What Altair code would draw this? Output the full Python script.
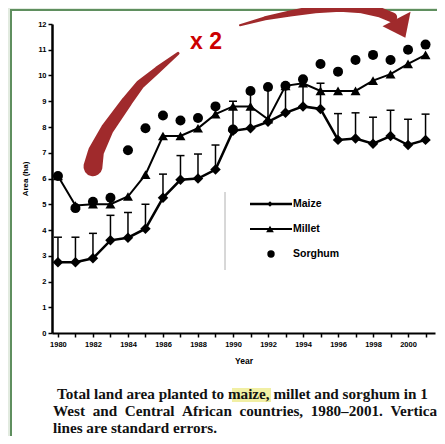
import altair as alt
import pandas as pd

# ---------------- data ----------------
years = list(range(1980, 2002))
maize = [2.75, 2.75, 2.9, 3.6, 3.7, 4.05, 5.25, 5.95, 6.0, 6.35, 7.85, 7.95,
         8.2, 8.55, 8.8, 8.7, 7.5, 7.55, 7.35, 7.65, 7.3, 7.5]
maize_se = [0.97, 0.97, 0.97, 0.97, 0.98, 0.95, 0.92, 0.94, 0.95, 0.95, 1.15, 1.35,
            1.25, 1.05, 1.0, 1.0, 1.02, 1.0, 1.03, 1.0, 1.0, 1.0]
millet = [6.1, 4.95, 5.0, 5.0, 5.3, 6.15, 7.65, 7.65, 7.95, 8.5, 8.8, 8.8,
          8.3, 9.6, 9.7, 9.4, 9.4, 9.4, 9.8, 10.05, 10.45, 10.8]
sorghum = [6.1, 4.85, 5.1, 5.25, 7.1, 7.95, 8.45, 8.25, 8.35, 8.8, 7.9, 9.4,
           9.55, 9.6, 9.85, 10.45, 10.15, 10.6, 10.8, 10.6, 11.0, 11.2]
y_ticks = list(range(0, 13))
legend_labels = ["Maize", "Millet", "Sorghum"]
caption_lines = [
    "Total land area planted to maize, millet and sorghum in 1",
    "West \u00a0and \u00a0Central \u00a0African \u00a0countries, \u00a01980\u20132001. \u00a0Vertica",
    "lines are standard errors.",
]
annot_text = "x 2"

# annotation arrow paths (in year / area units)
arrow_left_year = [1986.86, 1985.71, 1984.69, 1983.94, 1982.80, 1982.17, 1982.00]
arrow_left_area = [10.86, 10.23, 9.65, 8.99, 7.90, 7.04, 6.46]
arrow_left_w = [3, 7, 9, 11, 13, 16, 19]
arrow_right_year = [1990.40, 1991.83, 1993.26, 1994.69, 1996.11, 1997.37, 1998.40, 1999.09]
arrow_right_area = [11.95, 12.22, 12.41, 12.57, 12.65, 12.61, 12.45, 12.26]
arrow_right_w = [2, 4, 6, 8, 9, 10, 10, 10]
head_year = [1999.49]
head_area = [11.95]

# ---------------- frames ----------------
maize_df = pd.DataFrame({"year": years, "area": maize,
                         "top": [m + s for m, s in zip(maize, maize_se)]})
millet_df = pd.DataFrame({"year": years, "area": millet})
sorghum_df = pd.DataFrame({"year": years, "area": sorghum})
arrowL = pd.DataFrame({"year": arrow_left_year, "area": arrow_left_area,
                       "w": arrow_left_w, "o": list(range(len(arrow_left_w)))})
arrowR = pd.DataFrame({"year": arrow_right_year, "area": arrow_right_area,
                       "w": arrow_right_w, "o": list(range(len(arrow_right_w)))})
headdf = pd.DataFrame({"year": head_year, "area": head_area})
one = pd.DataFrame({"k": [0]})

FONT = "Liberation Sans"
RED = "#a02a2c"

xscale = alt.Scale(domain=[1979.66, 2001.54], nice=False, zero=False)
yscale = alt.Scale(domain=[0, 12], nice=False, zero=False)
xaxis = alt.Axis(values=years, format="d",
                 labelExpr="datum.value % 2 == 0 ? datum.label : ''",
                 domainColor="black", domainWidth=2, tickColor="black", tickWidth=1.5,
                 tickSize=4, labelFont=FONT, labelFontSize=7.5, labelFontWeight="bold",
                 labelColor="black", labelPadding=3, labelFlush=False, labelOverlap=False,
                 titleFont=FONT, titleFontSize=8.5, titleFontWeight="bold",
                 titleColor="black", titlePadding=9, grid=False, zindex=1)
yaxis = alt.Axis(values=y_ticks, format="d",
                 domainColor="black", domainWidth=2.5, tickColor="black", tickWidth=1.5,
                 tickSize=4, labelFont=FONT, labelFontSize=7.5, labelFontWeight="bold",
                 labelColor="black", labelPadding=2, labelFlush=False, labelOverlap=False,
                 titleFont=FONT, titleFontSize=8, titleFontWeight="bold",
                 titleColor="black", titlePadding=8, grid=False, zindex=1)

X = alt.X("year:Q", scale=xscale, axis=xaxis, title="Year")
Y = alt.Y("area:Q", scale=yscale, axis=yaxis, title="Area (ha)")

# ---------------- layers ----------------
panel = alt.Chart(one).mark_rect(fill="white", stroke="#5f8f5f", strokeWidth=2).encode(
    x=alt.value(-41), x2=alt.value(420), y=alt.value(-14), y2=alt.value(440))

highlight = alt.Chart(one).mark_rect(fill="#f1efa4").encode(
    x=alt.value(180), x2=alt.value(219), y=alt.value(364), y2=alt.value(378))

cap_x = [5, 1, 1]
cap_y = [375, 392, 409]
captions = [
    alt.Chart(one).mark_text(font="Liberation Serif", fontWeight="bold", fontSize=15.2,
                             align="left", baseline="alphabetic", color="#111111",
                             text=t).encode(x=alt.value(cx), y=alt.value(cy))
    for t, cx, cy in zip(caption_lines, cap_x, cap_y)
]

sep = alt.Chart(one).mark_rule(color="#b0b0b0", strokeWidth=1).encode(
    x=alt.value(173), y=alt.value(168), y2=alt.value(246))

err = alt.Chart(maize_df).mark_rule(color="black", strokeWidth=1.5).encode(
    x=X, y=Y, y2="top:Q")
caps = alt.Chart(maize_df).mark_point(shape="M -1 0 L 1 0", filled=False, size=64,
                                      strokeWidth=1.5, color="black", opacity=1).encode(
    x=X, y=alt.Y("top:Q", scale=yscale, axis=yaxis, title="Area (ha)"))

millet_line = alt.Chart(millet_df).mark_line(color="black", strokeWidth=2).encode(x=X, y=Y)
maize_line = alt.Chart(maize_df).mark_line(color="black", strokeWidth=2.5).encode(x=X, y=Y)
maize_pts = alt.Chart(maize_df).mark_point(shape="diamond", filled=True, size=110,
                                           color="black", opacity=1).encode(x=X, y=Y)
millet_pts = alt.Chart(millet_df).mark_point(shape="triangle-up", filled=True, size=100,
                                             color="black", opacity=1).encode(x=X, y=Y)
sorghum_pts = alt.Chart(sorghum_df).mark_point(shape="circle", filled=True, size=100,
                                               color="black", opacity=1).encode(x=X, y=Y)

# legend
leg_y = [180, 205, 230]
leg_layers = []
for i, (lab, ly) in enumerate(zip(legend_labels, leg_y)):
    if i < 2:
        leg_layers.append(alt.Chart(one).mark_rule(color="black", strokeWidth=2.5 if i == 0 else 2).encode(
            x=alt.value(198), x2=alt.value(240), y=alt.value(ly)))
    shape = ["diamond", "triangle-up", "circle"][i]
    size = [28, 60, 55][i]
    leg_layers.append(alt.Chart(one).mark_point(shape=shape, filled=True, size=size,
                                                color="black", opacity=1).encode(
        x=alt.value(218 if i < 2 else 219), y=alt.value(ly)))
    leg_layers.append(alt.Chart(one).mark_text(font=FONT, fontWeight="bold", fontSize=10.5,
                                               align="left", baseline="middle", color="black",
                                               text=lab).encode(
        x=alt.value(241), y=alt.value(ly)))

# arrows
trailL = alt.Chart(arrowL).mark_trail(color=RED).encode(
    x=X, y=Y, size=alt.Size("w:Q", scale=None, legend=None), order="o:Q")
trailR = alt.Chart(arrowR).mark_trail(color=RED).encode(
    x=X, y=Y, size=alt.Size("w:Q", scale=None, legend=None), order="o:Q")
head = alt.Chart(headdf).mark_point(shape="M -1 0.06 L 0.69 -0.81 L 0.375 0.75 Z",
                                    filled=True, size=1100, color=RED, opacity=1).encode(x=X, y=Y)

x2 = alt.Chart(one).mark_text(font=FONT, fontWeight="bold", fontSize=23, color="#cc0000",
                              align="center", baseline="alphabetic", text=annot_text).encode(
    x=alt.value(154), y=alt.value(25))

chart = alt.layer(
    panel, highlight, *captions, sep, err, caps, millet_line, maize_line,
    maize_pts, millet_pts, sorghum_pts, *leg_layers, trailL, trailR, head, x2
).properties(
    width=383, height=309,
    padding={"left": 44, "top": 16, "right": 2, "bottom": 103},
    autosize=alt.AutoSizeParams(type="none"),
    background="#e2ebe0",
).configure_view(stroke=None)

chart.save("out.html", embed_options={"renderer": "svg", "actions": False})
